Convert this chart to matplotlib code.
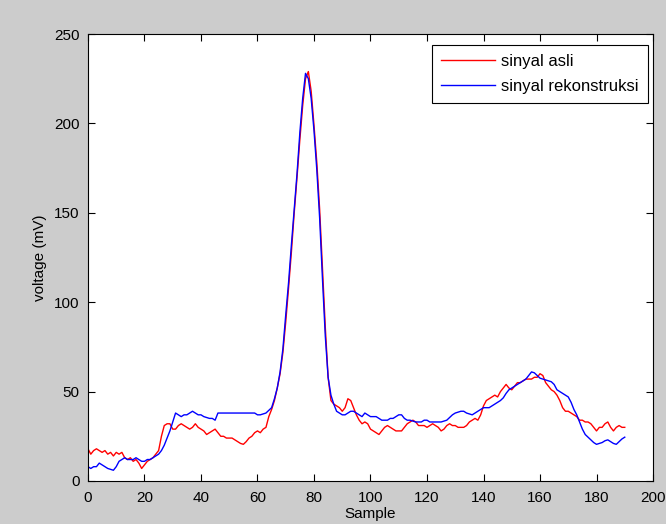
import matplotlib
matplotlib.use("Agg")
import matplotlib.pyplot as plt
import numpy as np

samples = list(range(191))

sinyal_asli = [
    18, 15, 17, 18, 17, 16, 17, 15, 16, 14,
    16, 15, 16, 13, 12, 13, 11, 12, 10, 7,
    9, 11, 12, 13, 15, 17, 25, 31, 32, 32,
    29, 29, 31, 32, 31, 30, 29, 30, 32, 30,
    29, 28, 26, 27, 28, 29, 27, 25, 25, 24,
    24, 24, 23, 22, 21, 20.5, 22, 24, 25, 27,
    28, 27, 29, 30, 36, 40, 45, 52, 60, 72,
    89, 108, 128, 150, 170, 191, 210, 225, 229, 218,
    199, 178, 152, 119, 86, 58, 45, 43, 42, 41,
    39, 41, 46, 45, 41, 37, 34, 32, 33, 32,
    29, 28, 27, 26, 28, 30, 31, 30, 29, 28,
    28, 28, 30, 32, 33, 34, 33, 31, 31, 31,
    30, 31, 32, 31, 30, 28, 29, 31, 32, 31,
    31, 30, 30, 30, 31, 33, 34, 35, 34, 37,
    42, 45, 46, 47, 48, 47, 50, 52, 54, 52,
    51, 53, 55, 55, 56, 57, 57, 57, 58, 58,
    60, 59, 55, 53, 51, 50, 48, 45, 41, 39,
    39, 38, 37, 36, 34, 34, 33, 33, 32, 30,
    28, 30, 30, 32, 33, 30, 28, 30, 31, 30,
    30,
]

sinyal_rekonstruksi = [
    8, 7, 8, 8, 10, 9, 8, 7, 6.5, 6,
    8, 11, 12, 13, 12, 12, 12, 13, 12, 11,
    11, 12, 12, 13, 14, 15, 17, 20, 24, 28,
    33, 38, 37, 36, 37, 37, 38, 39, 38, 37,
    37, 36, 35.5, 35, 35, 34, 38, 38, 38, 38,
    38, 38, 38, 38, 38, 38, 38, 38, 38, 38,
    37, 37, 37.5, 38, 39.5, 41, 46, 52, 61, 74,
    93, 111, 132, 152, 172, 195, 214, 228, 225, 214,
    196, 174, 147, 113, 81, 58, 48, 43, 39, 38,
    37, 37, 38, 39, 39, 38, 37, 36, 38, 37,
    36, 36, 36, 35, 34, 34, 34, 35, 35, 36,
    37, 37, 35, 34, 34, 33.5, 33, 33, 33, 34,
    34, 33, 33, 33, 33, 33, 33.5, 34, 35.5, 37,
    38, 38.5, 39, 39, 38, 37.5, 37, 38, 39, 40,
    41, 41, 41, 42, 43, 44, 45, 46.5, 49, 51,
    52, 53, 54, 55, 56, 57, 59, 61, 60.5, 59,
    57.5, 57, 56.5, 56, 55.5, 54, 51, 50, 49, 48,
    47, 44, 40, 37, 33, 29, 26, 24.5, 23, 21.5,
    20.5, 21, 21.5, 22.5, 23, 22, 21, 20.5, 22, 23.5,
    24.5,
]

xticks = [0, 20, 40, 60, 80, 100, 120, 140, 160, 180, 200]
yticks = [0, 50, 100, 150, 200, 250]

plt.rcParams['font.family'] = ['Liberation Sans', 'DejaVu Sans']

fig = plt.figure(figsize=(6.66, 5.24), dpi=100, facecolor='#cccccc')
ax = fig.add_axes([0.1321, 0.0821, 0.8484, 0.853])
ax.set_facecolor('white')

ax.plot(samples, sinyal_asli, color='#ff0000', lw=1.0, label='sinyal asli')
ax.plot(samples, sinyal_rekonstruksi, color='#0000ff', lw=1.0, label='sinyal rekonstruksi')

ax.set_xlim(0, 200)
ax.set_ylim(0, 250)
ax.set_xticks(xticks)
ax.set_yticks(yticks)
ax.tick_params(direction='in', length=5, width=0.8, top=True, right=True,
               labelsize=11, colors='black')
ax.tick_params(axis='x', pad=7)
ax.tick_params(axis='y', pad=6)
for s in ax.spines.values():
    s.set_linewidth(0.8)
    s.set_color('black')

ax.set_xlabel('Sample', fontsize=11, labelpad=2)
ax.set_ylabel('voltage (mV)', fontsize=11, labelpad=5)

leg = ax.legend(loc='upper right', bbox_to_anchor=(0.9912, 0.9754), borderaxespad=0,
                fontsize=12, handlelength=3.2, handletextpad=0.4,
                borderpad=0.55, labelspacing=0.56, fancybox=False, framealpha=1,
                edgecolor='black')
leg.get_frame().set_linewidth(0.8)

fig.savefig('out.png', dpi=100, facecolor=fig.get_facecolor())
